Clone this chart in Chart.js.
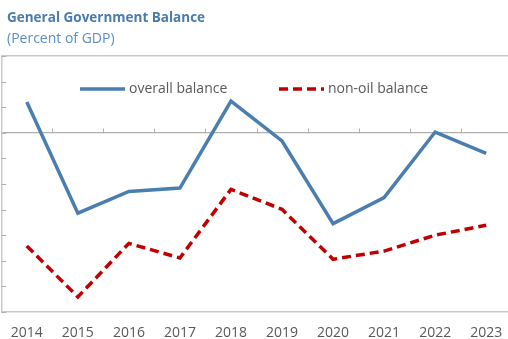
<!DOCTYPE html>
<html>
<head>
<meta charset="utf-8">
<script src="https://cdn.jsdelivr.net/npm/chart.js@4.4.1/dist/chart.umd.min.js"></script>
<style>
    html, body { margin: 0; padding: 0; background: #fff; overflow: hidden; }
    #wrap { position: relative; width: 516px; height: 339px; }
    /* shifted left: the x axis reserves a few px on each side for its end labels */
    #balanceChart { position: absolute; left: -3px; top: 0; }
    .title { position: absolute; left: 7px; top: 8px; font: bold 13.5px 'Open Sans', sans-serif; color: #4a7bab; }
    .subtitle { position: absolute; left: 7px; top: 28px; font: 14px 'Open Sans', sans-serif; color: #5b8ec2; }
</style>
</head>
<body>
<div id="wrap">
    <canvas id="balanceChart" width="519" height="339"></canvas>
    <div class="title">General Government Balance</div>
    <div class="subtitle">(Percent of GDP)</div>
</div>
<script>
// Fiscal balance series, percent of GDP
const years = ['2014', '2015', '2016', '2017', '2018', '2019', '2020', '2021', '2022', '2023'];
const overallBalance = [1.2, -3.14, -2.29, -2.16, 1.24, -0.32, -3.55, -2.53, 0.03, -0.8];
const nonOilBalance = [-4.42, -6.41, -4.32, -4.89, -2.21, -2.99, -4.94, -4.62, -4.0, -3.61];
const yMin = -7, yMax = 3, yStep = 1;

const TEXT = '#595959';
const FRAME = '#c9c9c9';
const ZERO = '#b0b0b0';

// short inward ticks on the left frame and along the zero line
const innerTicks = {
    id: 'innerTicks',
    beforeDatasetsDraw(chart) {
        const { ctx, chartArea, scales } = chart;
        const x = scales.x, y = scales.y;
        ctx.save();
        ctx.strokeStyle = ZERO;
        ctx.lineWidth = 1;
        ctx.beginPath();
        y.ticks.forEach(t => {
            const py = Math.round(y.getPixelForValue(t.value)) + 0.5;
            ctx.moveTo(chartArea.left, py);
            ctx.lineTo(chartArea.left + 5, py);
        });
        const zy = Math.round(y.getPixelForValue(0)) + 0.5;
        for (let i = 0; i < years.length - 1; i++) {
            const px = Math.round((x.getPixelForValue(i) + x.getPixelForValue(i + 1)) / 2) + 0.5;
            ctx.moveTo(px, zy);
            ctx.lineTo(px, zy - 5);
        }
        ctx.stroke();
        ctx.restore();
    }
};

// legend sits inside the plot area
const insideLegend = {
    id: 'insideLegend',
    afterDraw(chart) {
        const { ctx } = chart;
        const items = [{ x: 83, ds: chart.data.datasets[0] }, { x: 282, ds: chart.data.datasets[1] }];
        const ly = 89;
        ctx.save();
        ctx.font = "14px 'Open Sans', sans-serif";
        ctx.fillStyle = TEXT;
        ctx.textBaseline = 'middle';
        items.forEach(it => {
            ctx.strokeStyle = it.ds.borderColor;
            ctx.lineWidth = it.ds.borderWidth;
            ctx.setLineDash(it.ds.borderDash || []);
            ctx.beginPath();
            ctx.moveTo(it.x, ly);
            ctx.lineTo(it.x + 45, ly);
            ctx.stroke();
            ctx.fillText(it.ds.label, it.x + 49, ly);
        });
        ctx.restore();
    }
};

new Chart(document.getElementById('balanceChart'), {
    type: 'line',
    data: {
        labels: years,
        datasets: [
            {
                label: 'overall balance',
                data: overallBalance,
                borderColor: '#4a7eb0',
                borderWidth: 3.5,
                pointRadius: 0,
                tension: 0
            },
            {
                label: 'non-oil balance',
                data: nonOilBalance,
                borderColor: '#c00000',
                borderWidth: 3.5,
                borderDash: [9, 5],
                pointRadius: 0,
                tension: 0
            }
        ]
    },
    options: {
        responsive: false,
        animation: false,
        // the tick padding is counted twice by the axis fit, hence the negative bottom
        layout: { padding: { left: 0, top: 56, right: 0, bottom: -15 } },
        plugins: { legend: { display: false }, tooltip: { enabled: false } },
        scales: {
            x: {
                offset: true,
                grid: { display: false, drawTicks: false },
                border: { display: true, color: FRAME, width: 1.5 },
                ticks: { color: TEXT, padding: 14, font: { family: "'Open Sans', sans-serif", size: 14, lineHeight: 1 } }
            },
            y: {
                min: yMin, max: yMax,
                ticks: { display: false, stepSize: yStep },
                border: { display: true, color: FRAME, width: 1.5 },
                grid: {
                    drawTicks: false,
                    color: c => c.tick.value === 0 ? ZERO : (c.tick.value === yMax ? FRAME : 'transparent'),
                    lineWidth: c => c.tick.value === 0 ? 1.2 : 1.5
                }
            }
        }
    },
    plugins: [innerTicks, insideLegend]
});
</script>
</body>
</html>
